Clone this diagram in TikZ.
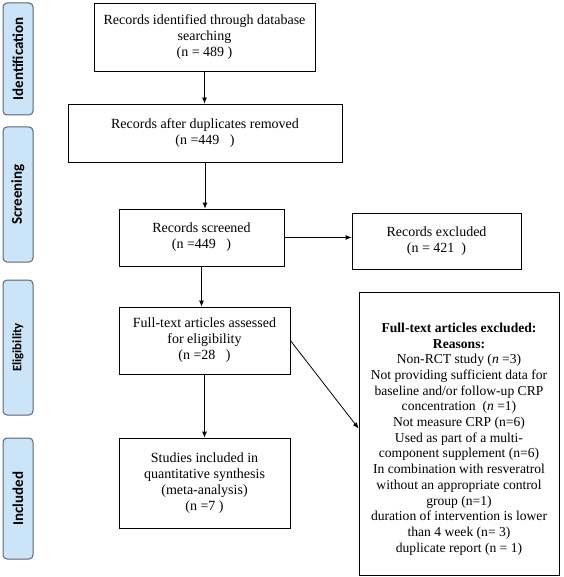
\documentclass[tikz,border=0pt]{standalone}
\usepackage{fontspec}
\setmainfont{Liberation Serif}
\newfontfamily\sidefont{Carlito}
\usetikzlibrary{arrows.meta,fit}
\definecolor{sidefill}{HTML}{CCE4F7}
\definecolor{sideline}{HTML}{5A6470}
\begin{document}
\begin{tikzpicture}[x=1pt,y=-1pt,
  sidebox/.style={draw=sideline, line width=1pt, fill=sidefill, rounded corners=4pt,
    minimum height=30pt, rotate=90, inner sep=0pt, font=\sidefont\bfseries\fontsize{15}{17}\selectfont},
  flowbox/.style={draw, line width=0.8pt, align=center, inner sep=2pt,
    font=\fontsize{14}{16}\selectfont},
  bigtext/.style={align=center, inner sep=0pt,
    font=\fontsize{13.6}{15.7}\selectfont},
  arr/.style={-{Latex[length=6pt,width=5pt]}, line width=0.8pt}]
\useasboundingbox (0,0) rectangle (563,577);
\node[sidebox, minimum width=112pt] (sid) at (18,59) {Identification};
\node[sidebox, minimum width=135pt] (sscr) at (18,194.5) {Screening};
\node[sidebox, minimum width=135pt, font=\sidefont\bfseries\fontsize{12.8}{14}\selectfont] (selig) at (18,347.5) {Eligibility};
\node[sidebox, minimum width=121pt] (sinc) at (18,498.5) {Included};

\node[flowbox, minimum width=221pt, minimum height=68pt] (b1) at (204.5,37)
  {Records identified through database\\ searching\\ (n = 489 )};
\node[flowbox, minimum width=274pt, minimum height=58pt] (b2) at (205,133)
  {Records after duplicates removed\\ (n =449\ \ \ )};
\node[flowbox, minimum width=165pt, minimum height=57pt] (b3) at (201.5,237.5)
  {Records screened\\ (n =449\ \ \ )};
\node[flowbox, minimum width=169pt, minimum height=56pt] (ex) at (436.5,241)
  {Records excluded\\ (n = 421\ \ )};
\node[flowbox, minimum width=171pt, minimum height=67pt] (b4) at (204.5,340.5)
  {Full-text articles assessed\\ for eligibility\\ (n =28\ \ \ )};
\node[flowbox, minimum width=171pt, minimum height=90pt] (b5) at (204.5,483)
  {Studies included in\\ quantitative synthesis\\ (meta-analysis)\\ (n =7 )};
\coordinate (bigtl) at (359,292);
\coordinate (bigbr) at (559,575);
\node[draw, line width=0.8pt, inner sep=0pt, fit=(bigtl)(bigbr)] (big) {};
\node[bigtext] (bigt) at (459,439)
  {\textbf{Full-text articles excluded:}\\ \textbf{Reasons:}\\
   Non-RCT study (\textit{n} =3)\\ Not providing sufficient data for\\
   baseline and/or follow-up CRP\\ concentration\ \ (\textit{n} =1)\\
   Not measure CRP (n=6)\\ Used as part of a multi-\\
   component supplement (n=6)\\ In combination with resveratrol\\
   without an appropriate control\\ group (n=1)\\
   duration of intervention is lower\\ than 4 week (n= 3)\\
   duplicate report (n = 1)};

\draw[arr] (b1.south) -- (b1.south |- b2.north);
\draw[arr] (b2.south) -- (b2.south |- b3.north);
\draw[arr] (b3.east) -- (b3.east -| ex.west);
\draw[arr] (b3.south) -- (b3.south |- b4.north);
\draw[arr] (b4.south) -- (b5.north);
\draw[arr] (b4.east) -- ([yshift=5pt]big.west);
\end{tikzpicture}
\end{document}
